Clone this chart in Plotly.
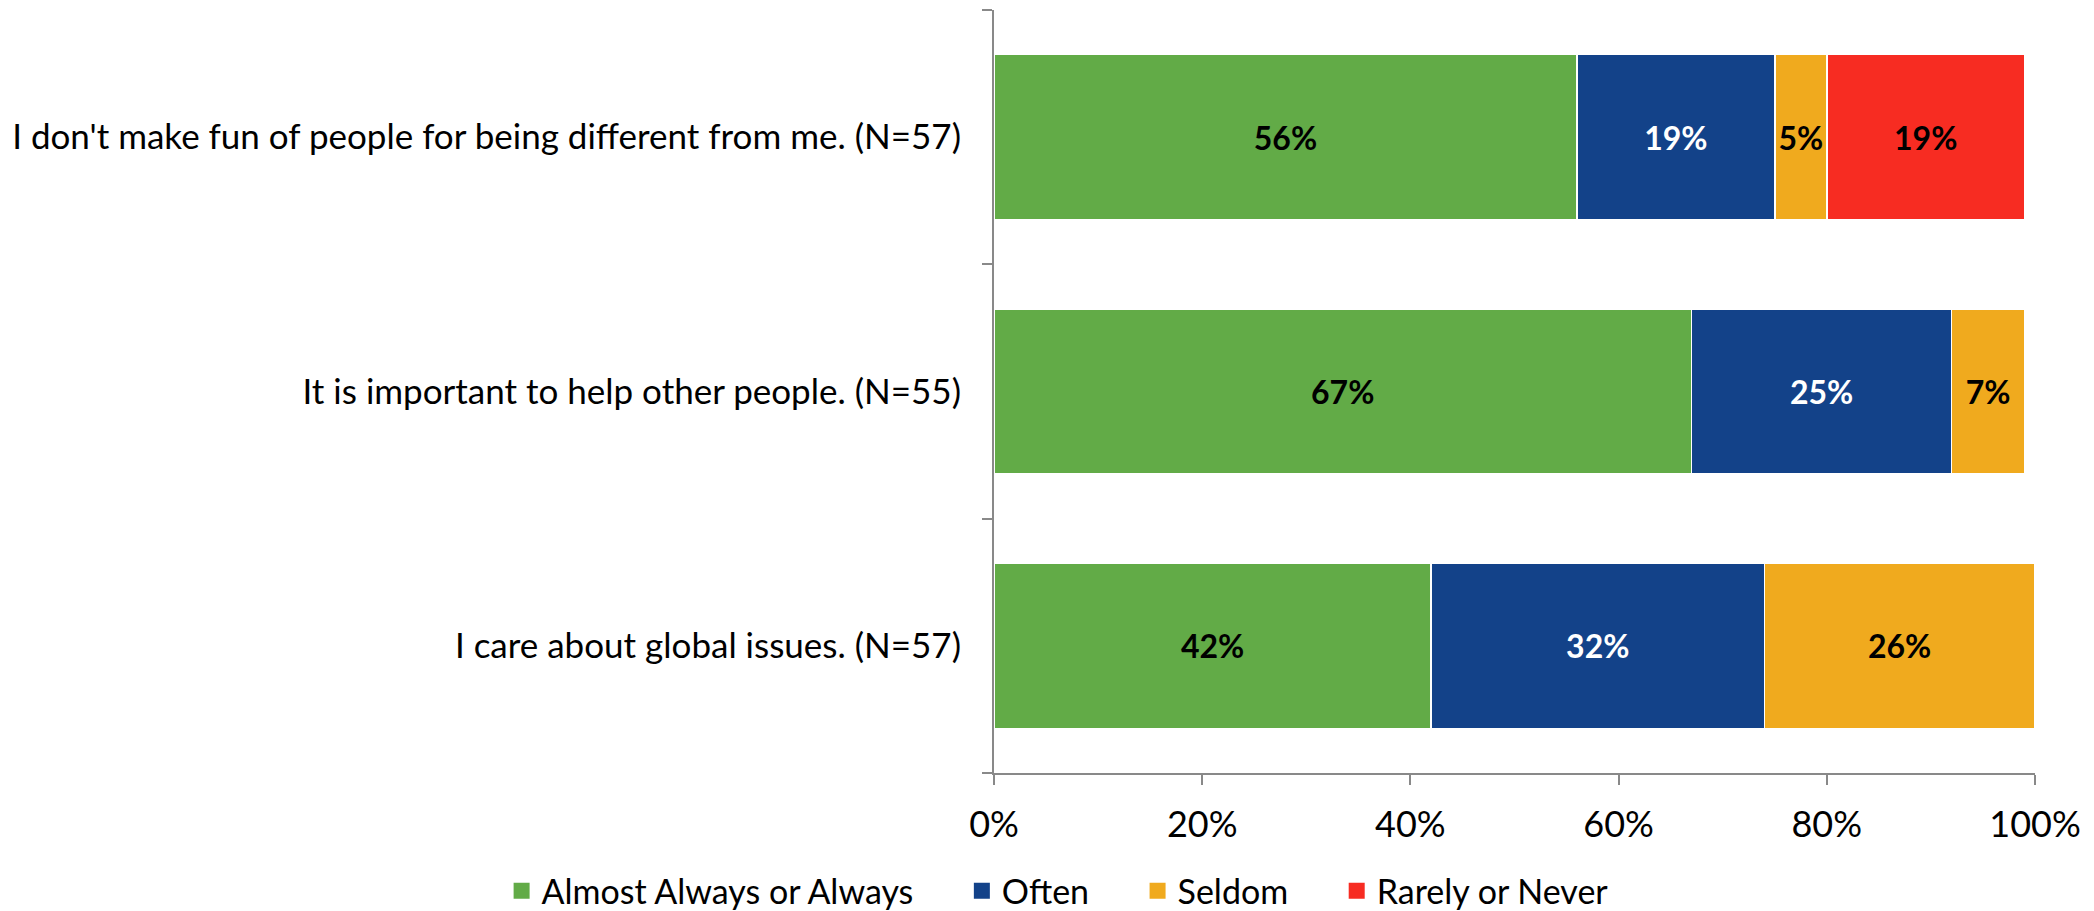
import plotly.graph_objects as go

categories = [
    "I don't make fun of people for being different from me. (N=57)",
    "It is important to help other people. (N=55)",
    "I care about global issues. (N=57)",
]
series_names = ["Almost Always or Always", "Often", "Seldom", "Rarely or Never"]
almost_always = [56, 67, 42]
often = [19, 25, 32]
seldom = [5, 7, 26]
rarely = [19, 0, 0]
colors = ["#62AB47", "#134289", "#F0AA1E", "#F72C22"]
text_colors = ["black", "white", "black", "black"]
x_ticks = [0, 20, 40, 60, 80, 100]

FONT = "Lato"
fig = go.Figure()
for name, vals, col, tcol in zip(series_names, [almost_always, often, seldom, rarely], colors, text_colors):
    fig.add_trace(go.Bar(
        y=categories, x=vals, name=name, orientation="h",
        marker=dict(color=col, line=dict(color="white", width=1.5)),
        text=[f"{v}%" if v > 0 else "" for v in vals],
        textposition="inside", insidetextanchor="middle",
        textfont=dict(family=FONT, size=32, color=tcol, weight="bold"),
        showlegend=False,
    ))
# legend entries (larger square markers, extra spacing after each label)
PAD = "\u00a0" * 5
for name, col in zip(series_names, colors):
    fig.add_trace(go.Scatter(
        x=[None], y=[None], mode="markers", name=name + PAD,
        marker=dict(symbol="square", size=17, color=col),
        showlegend=True,
    ))

fig.update_layout(
    template="none",
    barmode="stack", bargap=0.35,
    width=2094, height=911,
    margin=dict(l=986, r=67, t=2, b=146, autoexpand=False),
    plot_bgcolor="white", paper_bgcolor="white",
    font=dict(family=FONT, size=35, color="black"),
    uniformtext=dict(mode="show", minsize=10),
    legend=dict(orientation="h", x=-0.473, xanchor="left", y=-0.117, yanchor="top",
                font=dict(size=34), traceorder="normal", itemwidth=30,
                bgcolor="rgba(0,0,0,0)"),
    showlegend=True,
)
fig.update_xaxes(range=[0, 100], tickvals=x_ticks, ticktext=[f"{t}%" for t in x_ticks],
                 showgrid=False, showline=True, linecolor="#898989", linewidth=2,
                 ticks="outside", ticklen=10, tickcolor="#898989", tickwidth=2,
                 ticklabelstandoff=9, zeroline=False, automargin=False,
                 tickfont=dict(size=36))
fig.update_yaxes(categoryorder="array", categoryarray=categories[::-1],
                 showgrid=False, showline=True, linecolor="#898989", linewidth=2,
                 ticks="outside", ticklen=10, tickcolor="#898989", tickwidth=2,
                 tickson="boundaries", ticklabelstandoff=24, automargin=False,
                 zeroline=False, tickfont=dict(size=35))

fig.write_html("out.html")
